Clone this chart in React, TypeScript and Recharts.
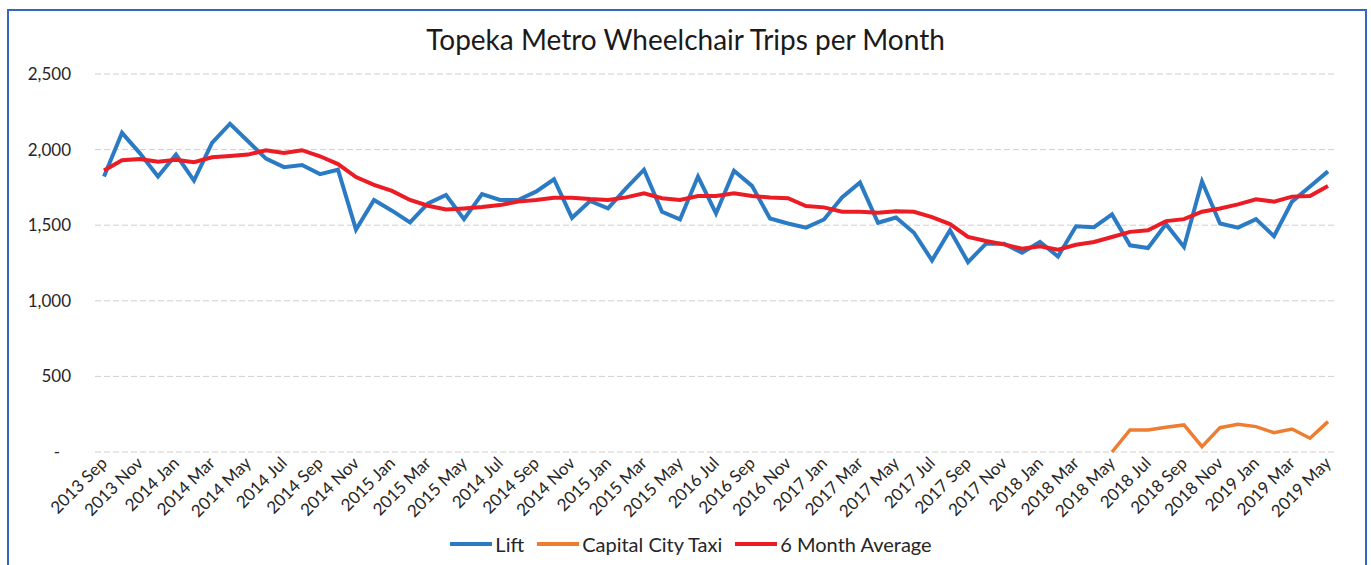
import { LineChart, Line, XAxis, YAxis, CartesianGrid, Legend } from "recharts";

// Months shown on the category axis (every second one carries a visible label,
// copied as printed in the original chart, including its repeated labels).
const months = [
  "2013 Sep", "2013 Oct", "2013 Nov", "2013 Dec", "2014 Jan", "2014 Feb", "2014 Mar", "2014 Apr",
  "2014 May", "2014 Jun", "2014 Jul", "2014 Aug", "2014 Sep", "2014 Oct", "2014 Nov", "2014 Dec",
  "2015 Jan", "2015 Feb", "2015 Mar", "2015 Apr", "2015 May", "2015 Jun", "2014 Jul", "2015 Aug",
  "2014 Sep", "2015 Oct", "2014 Nov", "2015 Dec", "2015 Jan", "2016 Feb", "2015 Mar", "2016 Apr",
  "2015 May", "2016 Jun", "2016 Jul", "2016 Aug", "2016 Sep", "2016 Oct", "2016 Nov", "2016 Dec",
  "2017 Jan", "2017 Feb", "2017 Mar", "2017 Apr", "2017 May", "2017 Jun", "2017 Jul", "2017 Aug",
  "2017 Sep", "2017 Oct", "2017 Nov", "2017 Dec", "2018 Jan", "2018 Feb", "2018 Mar", "2018 Apr",
  "2018 May", "2018 Jun", "2018 Jul", "2018 Aug", "2018 Sep", "2018 Oct", "2018 Nov", "2018 Dec",
  "2019 Jan", "2019 Feb", "2019 Mar", "2019 Apr", "2019 May",
];

const lift = [
  1822, 2111, 1975, 1822, 1967, 1795, 2044, 2171, 2055, 1940, 1884, 1898, 1838, 1867, 1471, 1667,
  1596, 1518, 1644, 1700, 1540, 1705, 1667, 1667, 1722, 1804, 1549, 1660, 1611, 1744, 1867, 1589,
  1538, 1822, 1578, 1860, 1760, 1544, 1511, 1484, 1538, 1684, 1782, 1516, 1551, 1450, 1267, 1467,
  1256, 1378, 1378, 1318, 1389, 1293, 1493, 1487, 1571, 1367, 1349, 1507, 1356, 1789, 1511, 1484,
  1540, 1427, 1656, 1756, 1856,
];

const taxi: (number | null)[] = [
  null, null, null, null, null, null, null, null, null, null, null, null, null, null, null, null,
  null, null, null, null, null, null, null, null, null, null, null, null, null, null, null, null,
  null, null, null, null, null, null, null, null, null, null, null, null, null, null, null, null,
  null, null, null, null, null, null, null, null, 0, 146, 146, 163, 179, 35, 161, 183,
  168, 128, 152, 91, 201,
];

const sixMonthAvg = [
  1862, 1929, 1938, 1920, 1933, 1916, 1949, 1958, 1967, 1996, 1978, 1996, 1956, 1904, 1818, 1767,
  1727, 1667, 1629, 1604, 1611, 1620, 1633, 1656, 1667, 1682, 1682, 1673, 1667, 1684, 1711, 1678,
  1667, 1693, 1693, 1711, 1693, 1684, 1678, 1627, 1618, 1589, 1589, 1582, 1593, 1589, 1553, 1507,
  1422, 1396, 1373, 1344, 1360, 1338, 1371, 1389, 1422, 1456, 1467, 1527, 1540, 1589, 1611, 1638,
  1671, 1656, 1689, 1693, 1760,
];

const yTicks = [0, 500, 1000, 1500, 2000, 2500];
const seriesOrder = ["Lift", "Capital City Taxi", "6 Month Average"];

const FONT = "Lato, 'Open Sans', sans-serif";

const data = months.map((m, i) => ({
  idx: i,
  month: m,
  lift: lift[i],
  taxi: taxi[i],
  avg: sixMonthAvg[i],
}));

const labelTicks = months.map((_, i) => i).filter((i) => i % 2 === 0);
const markTicks = [...months.map((_, i) => i - 0.5), months.length - 0.5];

const YTick = ({ x, y, payload }: any) => (
  <text
    x={payload.value === 0 ? x - 11 : x}
    y={y}
    dy="0.35em"
    textAnchor="end"
    fontSize={17}
    fontFamily={FONT}
    fill="#262626"
  >
    {payload.value === 0 ? "-" : payload.value.toLocaleString("en-US")}
  </text>
);

const XTick = ({ x, y, payload }: any) => (
  <text
    x={x}
    y={y}
    dy="0.35em"
    textAnchor="end"
    transform={`rotate(-45, ${x}, ${y})`}
    fontSize={17}
    fontFamily={FONT}
    fill="#262626"
  >
    {months[payload.value]}
  </text>
);

const renderLegend = (props: any) => {
  const payload = [...props.payload].sort(
    (a: any, b: any) => seriesOrder.indexOf(a.value) - seriesOrder.indexOf(b.value)
  );
  return (
    <div
      style={{
        height: 43,
        display: "flex",
        justifyContent: "center",
        alignItems: "center",
        fontFamily: FONT,
        fontSize: 20,
        color: "#262626",
      }}
    >
      {payload.map((entry: any, i: number) => (
        <span
          key={entry.value}
          style={{ display: "inline-flex", alignItems: "center", marginLeft: i === 0 ? 0 : 13 }}
        >
          <span
            style={{
              display: "inline-block",
              width: 42,
              height: 4,
              background: entry.color,
              marginRight: 3,
            }}
          />
          <span>{entry.value}</span>
        </span>
      ))}
    </div>
  );
};

const App = () => {
  return (
    <div
      style={{
        position: "absolute",
        left: 0,
        top: 0,
        width: 1371,
        height: 565,
        background: "#ffffff",
        overflow: "hidden",
      }}
    >
      <div
        style={{
          position: "absolute",
          left: 7,
          top: 9,
          width: 1360,
          height: 620,
          border: "2px solid #3366c4",
          boxSizing: "border-box",
          pointerEvents: "none",
        }}
      />
      <div
        style={{
          position: "absolute",
          top: 22,
          left: 0,
          width: 1371,
          textAlign: "center",
          fontFamily: FONT,
          fontSize: 28,
          color: "#1a1a1a",
        }}
      >
        Topeka Metro Wheelchair Trips per Month
      </div>
      <div style={{ position: "absolute", left: 0, top: 0 }}>
        <LineChart
          width={1371}
          height={565}
          data={data}
          margin={{ top: 74, right: 34, left: 0, bottom: 0 }}
        >
          <CartesianGrid
            vertical={false}
            stroke="#cfcfcf"
            strokeDasharray="6 3"
          />
          <XAxis
            xAxisId="marks"
            dataKey="idx"
            type="number"
            domain={[-0.5, months.length - 0.5]}
            ticks={markTicks}
            tick={false}
            tickSize={5}
            mirror
            height={0}
            stroke="#bdbdbd"
            interval={0}
          />
          <XAxis
            dataKey="idx"
            type="number"
            domain={[-0.5, months.length - 0.5]}
            ticks={labelTicks}
            interval={0}
            height={70}
            axisLine={false}
            tickLine={false}
            tickSize={4}
            tickMargin={4}
            tick={<XTick />}
          />
          <YAxis
            width={95}
            domain={[0, 2500]}
            ticks={yTicks}
            axisLine={false}
            tickLine={false}
            tickMargin={18}
            tick={<YTick />}
          />
          <Legend
            verticalAlign="bottom"
            content={renderLegend}
            wrapperStyle={{ left: 0, width: 1382 }}
          />
          <Line
            name="Lift"
            dataKey="lift"
            stroke="#2b7bc4"
            strokeWidth={4}
            dot={false}
            isAnimationActive={false}
          />
          <Line
            name="Capital City Taxi"
            dataKey="taxi"
            stroke="#ee7d31"
            strokeWidth={3.5}
            dot={false}
            isAnimationActive={false}
          />
          <Line
            name="6 Month Average"
            dataKey="avg"
            stroke="#ec1c24"
            strokeWidth={4}
            dot={false}
            isAnimationActive={false}
          />
        </LineChart>
      </div>
    </div>
  );
};

export default App;
